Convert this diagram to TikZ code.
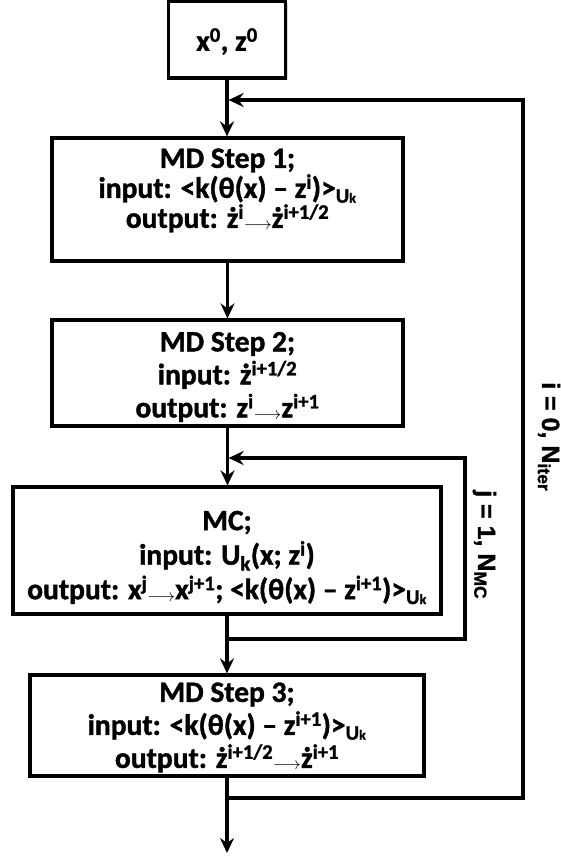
\documentclass[tikz,border=0pt]{standalone}
\usepackage{fontspec}
\setmainfont{Carlito}[BoldFeatures={FakeBold=1.3}]
\newfontfamily\lblfont{Liberation Sans}[BoldFeatures={FakeBold=1.2}]
\usetikzlibrary{arrows.meta,shadows}
\newcommand\su[1]{\textsuperscript{#1}}
\newcommand\sbs[1]{\textsubscript{#1}}
\newcommand\Uk{\textsubscript{U{\fontsize{14}{14}\selectfont k}}}
\newcommand\arr{\raisebox{-2pt}{\fontsize{19}{19}\selectfont$\longrightarrow$}}
\tikzset{
  stepbox/.style={draw, line width=3.2pt, inner sep=0pt,
    drop shadow={shadow xshift=2pt, shadow yshift=-2pt, opacity=0.3}, fill=white},
  steptext/.style={inner sep=0pt, align=center,
    font=\fontsize{29.5}{33}\selectfont\bfseries},
  conn/.style={line width=3.2pt, -{Stealth[length=15pt,width=14pt,inset=5pt]}},
  lbl/.style={inner sep=0pt, font=\lblfont\fontsize{25}{25}\selectfont\bfseries}
}
\begin{document}
\begin{tikzpicture}[x=1pt,y=-1pt]
\useasboundingbox (0,0) rectangle (561,859);
\node[stepbox, minimum width=117pt, minimum height=77pt] (b0) at (227,39.5) {};
\node[stepbox, minimum width=351pt, minimum height=123pt] (b1) at (227.5,199.5) {};
\node[stepbox, minimum width=351pt, minimum height=106pt] (b2) at (227.5,373) {};
\node[stepbox, minimum width=428pt, minimum height=127pt] (b3) at (227,550.5) {};
\node[stepbox, minimum width=394pt, minimum height=101pt] (b4) at (227,725.5) {};
\node[steptext] (t0) at ([yshift=-2pt]b0.center) {x\su{0}, z\su{0}};
\node[steptext, font=\fontsize{29.5}{30}\selectfont\bfseries] (t1) at ([yshift=9pt]b1.center)
  {MD Step 1;\\ input: <k(θ(x) – z\su{i})>\Uk\\ output: ż\su{i}\arr ż\su{i+1/2}};
\node[steptext] (t2) at ([yshift=-4pt]b2.center)
  {MD Step 2;\\ input: ż\su{i+1/2}\\ output: z\su{i}\arr z\su{i+1}};
\node[steptext, font=\fontsize{29.5}{34.5}\selectfont\bfseries] (t3) at ([yshift=-7pt]b3.center)
  {MC;\\ input: U\sbs{k}(x; z\su{i})\\ output: x\su{j}\arr x\su{j+1}; <k(θ(x) – z\su{i+1})>\Uk};
\node[steptext] (t4) at ([yshift=-2pt]b4.center)
  {MD Step 3;\\ input: <k(θ(x) – z\su{i+1})>\Uk\\ output: ż\su{i+1/2}\arr ż\su{i+1}};
\coordinate (innerA) at (227,639);
\coordinate (innerB) at (465,639);
\coordinate (innerC) at (465,458);
\coordinate (innerD) at (227,458);
\coordinate (outerA) at (227,798);
\coordinate (outerB) at (523,798);
\coordinate (outerC) at (523,100);
\coordinate (outerD) at (227,100);
\coordinate (fin) at (227,853);
\draw[conn] (b0.south) -- (b1.north -| b0.south);
\draw[conn] (b1) -- (b2);
\draw[conn] (b2.south) -- (b3.north -| b2.south);
\draw[conn] (b3) -- (b4);
\draw[conn] (b4.south) -- (fin);
\draw[conn, shorten >=1.6pt] (innerA) -- (innerB) -- (innerC) -- (innerD);
\draw[conn, shorten >=1.6pt] (outerA) -- (outerB) -- (outerC) -- (outerD);
\node[lbl, anchor=base west, rotate=-90] (li) at (542,382) {i = 0, N\sbs{iter}};
\node[lbl, anchor=base west, rotate=-90] (lj) at (478,490) {j = 1, N\sbs{MC}};
\end{tikzpicture}
\end{document}
